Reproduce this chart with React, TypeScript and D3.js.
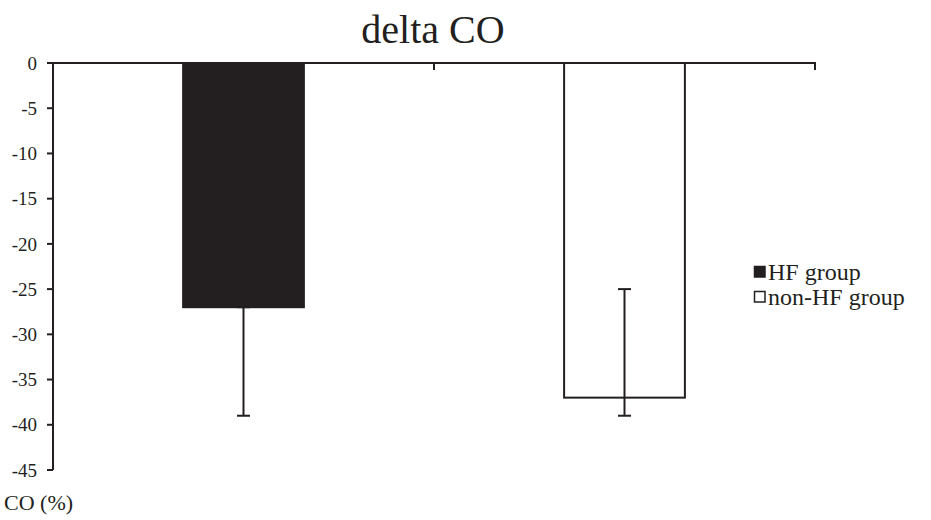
import * as d3 from 'd3'

const groups = ['HF group', 'non-HF group']
const means = [-27, -37]
const errLow = [-39, -39]
const errHigh = [-27, -25]
const yTicks = [0, -5, -10, -15, -20, -25, -30, -35, -40, -45]
const fills = ['#231f20', '#ffffff']

const INK = '#231f20'
const FONT = 'Liberation Serif'

const W = 931, H = 520
const m = { top: 63, left: 53, right: 116 }

export default function App() {
  const x = d3.scaleBand().domain(groups).range([m.left, W - m.right]).padding(0)
  const y = d3.scaleLinear().domain([0, -45]).range([m.top, 470])
  const barW = x.bandwidth() * 0.317
  const xr = x.range()
  const edges = [...groups.map(g => x(g)!), xr[1]].slice(1)

  return (
    <svg width={W} height={H} style={{ position: 'absolute', left: 0, top: 0, fontFamily: FONT }}>
      <text x={433} y={43} textAnchor="middle" fontSize={40} fill={INK}>delta CO</text>

      {groups.map((g, i) => {
        const cx = x(g)! + x.bandwidth() / 2
        return (
          <g key={g}>
            <rect x={cx - barW / 2} y={y(0)} width={barW} height={y(means[i]) - y(0)}
              fill={fills[i]} stroke={INK} strokeWidth={2} />
            <line x1={cx} x2={cx} y1={y(errHigh[i])} y2={y(errLow[i])} stroke={INK} strokeWidth={2} />
            {[errHigh[i], errLow[i]].map((v, k) => (
              <line key={k} x1={cx - 6.5} x2={cx + 6.5} y1={y(v)} y2={y(v)} stroke={INK} strokeWidth={2} />
            ))}
          </g>
        )
      })}

      {/* category axis along zero */}
      <line x1={xr[0] - 6} x2={xr[1] + 1} y1={y(0)} y2={y(0)} stroke={INK} strokeWidth={2} />
      {edges.map((e, i) => (
        <line key={i} x1={e} x2={e} y1={y(0)} y2={y(0) + 7} stroke={INK} strokeWidth={2} />
      ))}

      {/* value axis */}
      <line x1={m.left} x2={m.left} y1={y(0)} y2={y(-45)} stroke={INK} strokeWidth={2} />
      {yTicks.map(t => (
        <g key={t}>
          <line x1={m.left - 6} x2={m.left} y1={y(t)} y2={y(t)} stroke={INK} strokeWidth={2} />
          <text x={m.left - 16} y={y(t)} dy="0.35em" textAnchor="end" fontSize={19} fill={INK}>{t}</text>
        </g>
      ))}

      <text x={4} y={510} fontSize={22} fill={INK}>CO (%)</text>

      {groups.map((g, i) => {
        const ly = 272 + i * 25
        return (
          <g key={g}>
            <rect x={754.5} y={ly - 5.5} width={10.5} height={10.5} fill={fills[i]} stroke={INK} strokeWidth={1.5} />
            <text x={768} y={ly + 7.5} fontSize={24} fill={INK}>{g}</text>
          </g>
        )
      })}
    </svg>
  )
}
